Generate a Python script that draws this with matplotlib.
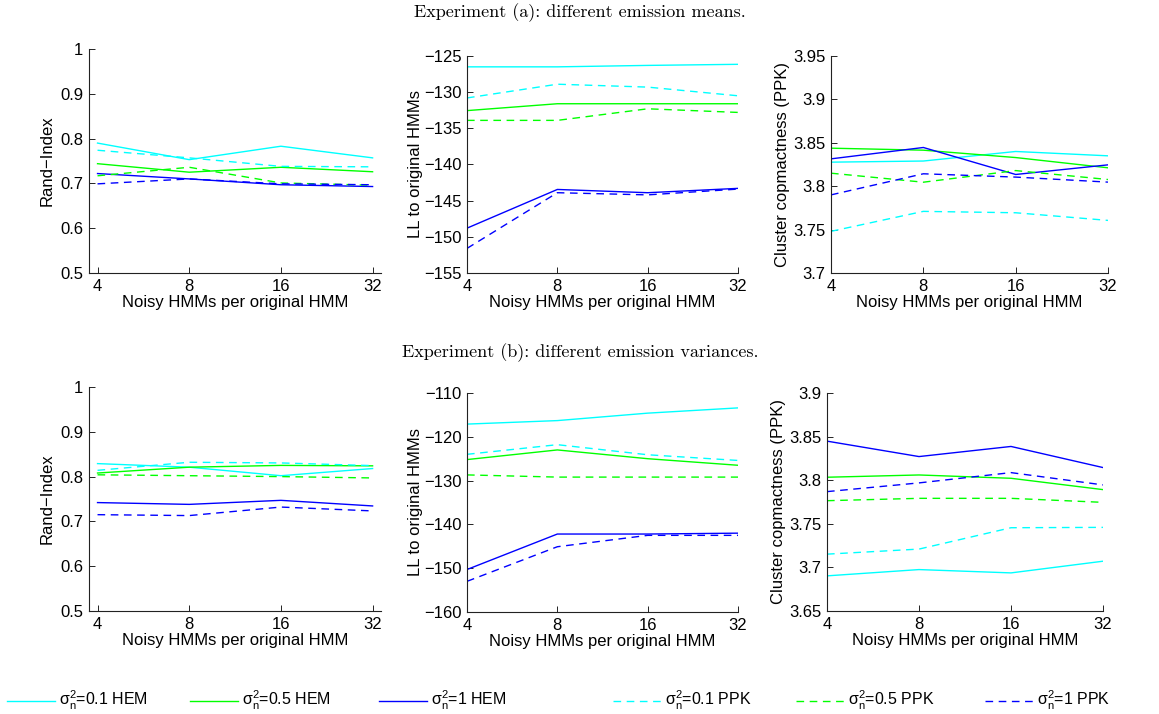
import numpy as np
import matplotlib
matplotlib.use("Agg")
import matplotlib.pyplot as plt

plt.rcParams['font.family'] = ['Liberation Sans', 'DejaVu Sans']
plt.rcParams['font.size'] = 12

# x values: number of noisy HMMs per original HMM
x_vals = [4, 8, 16, 32]
x_ticklabels = ['4', '8', '16', '32']

# rows: sigma_n^2 = 0.1, 0.5, 1
# Experiment (a): different emission means
a_rand_hem = [[0.790, 0.753, 0.783, 0.757],
              [0.744, 0.725, 0.736, 0.726],
              [0.722, 0.710, 0.697, 0.693]]
a_rand_ppk = [[0.774, 0.757, 0.738, 0.737],
              [0.717, 0.736, 0.701, 0.696],
              [0.699, 0.710, 0.699, 0.697]]
a_ll_hem = [[-126.5, -126.5, -126.3, -126.15],
            [-132.55, -131.6, -131.6, -131.6],
            [-148.8, -143.45, -143.9, -143.3]]
a_ll_ppk = [[-130.8, -128.9, -129.3, -130.5],
            [-133.9, -133.9, -132.3, -132.8],
            [-151.6, -143.9, -144.2, -143.4]]
a_ppk_hem = [[3.8277, 3.829, 3.840, 3.835],
             [3.8438, 3.8415, 3.833, 3.8212],
             [3.8315, 3.8446, 3.8135, 3.8246]]
a_ppk_ppk = [[3.748, 3.771, 3.7694, 3.7606],
             [3.815, 3.8046, 3.818, 3.8077],
             [3.790, 3.8143, 3.8105, 3.8047]]

# Experiment (b): different emission variances
b_rand_hem = [[0.829, 0.821, 0.802, 0.818],
              [0.808, 0.821, 0.825, 0.824],
              [0.742, 0.738, 0.747, 0.7345]]
b_rand_ppk = [[0.814, 0.832, 0.8305, 0.8245],
              [0.804, 0.802, 0.800, 0.797],
              [0.715, 0.713, 0.732, 0.7234]]
b_ll_hem = [[-117.1, -116.3, -114.6, -113.4],
            [-125.2, -123.0, -125.0, -126.5],
            [-150.3, -142.2, -142.2, -142.0]]
b_ll_ppk = [[-124.0, -121.8, -124.1, -125.4],
            [-128.7, -129.2, -129.2, -129.2],
            [-153.0, -145.1, -142.5, -142.5]]
b_ppk_hem = [[3.6903, 3.6975, 3.6937, 3.7071],
             [3.8034, 3.806, 3.8022, 3.7892],
             [3.8448, 3.8271, 3.8387, 3.8145]]
b_ppk_ppk = [[3.7152, 3.721, 3.7455, 3.7459],
             [3.7765, 3.7792, 3.7792, 3.7746],
             [3.7869, 3.7969, 3.8087, 3.7946]]

sigma_vals = ['0.1', '0.5', '1']
colors = ['#00ffff', '#00ff00', '#0000ff']

rand_ticks = [0.5, 0.6, 0.7, 0.8, 0.9, 1.0]
rand_ticklabels = ['0.5', '0.6', '0.7', '0.8', '0.9', '1']
a_ll_ticks = [-155, -150, -145, -140, -135, -130, -125]
b_ll_ticks = [-160, -150, -140, -130, -120, -110]
a_ppk_ticks = [3.7, 3.75, 3.8, 3.85, 3.9, 3.95]
a_ppk_ticklabels = ['3.7', '3.75', '3.8', '3.85', '3.9', '3.95']
b_ppk_ticks = [3.65, 3.7, 3.75, 3.8, 3.85, 3.9]
b_ppk_ticklabels = ['3.65', '3.7', '3.75', '3.8', '3.85', '3.9']

W, H = 1159, 714
fig = plt.figure(figsize=(W / 100, H / 100), dpi=100)


def px_axes(x0, y0, x1, y1):
    return fig.add_axes([x0 / W, 1 - y1 / H, (x1 - x0) / W, (y1 - y0) / H])


dash = (0, (5.5, 4))


def panel(ax, hem, ppk, ticks, ticklabels, ylabel, xlim, ypad=4):
    lines = []
    for i in range(3):
        l, = ax.plot(x_vals, hem[i], color=colors[i], lw=1.0)
        lines.append(l)
    for i in range(3):
        l, = ax.plot(x_vals, ppk[i], color=colors[i], lw=1.0, linestyle=dash)
        lines.append(l)
    ax.set_xscale('log', base=2)
    ax.set_xlim(*xlim)
    ax.set_xticks(x_vals)
    ax.set_xticklabels(x_ticklabels)
    ax.minorticks_off()
    ax.set_ylim(ticks[0], ticks[-1])
    ax.set_yticks(ticks)
    if ticklabels is not None:
        ax.set_yticklabels(ticklabels)
    ax.spines['top'].set_visible(False)
    ax.spines['right'].set_visible(False)
    for s in ['left', 'bottom']:
        ax.spines[s].set_linewidth(0.8)
        ax.spines[s].set_color('#222222')
    ax.tick_params(direction='in', length=4, width=0.6, pad=4)
    ax.set_xlabel('Noisy HMMs per original HMM', labelpad=1)
    ax.set_ylabel(ylabel, labelpad=ypad)
    return lines


wide = (3.75, 34.1)
tight = (4, 32)

ax = px_axes(89, 49, 381, 273)
handles = panel(ax, a_rand_hem, a_rand_ppk, rand_ticks, rand_ticklabels, 'Rand\u2212Index', wide)
ax = px_axes(467, 56, 738, 273)
panel(ax, a_ll_hem, a_ll_ppk, a_ll_ticks, None, 'LL to original HMMs', tight, ypad=0.5)
ax = px_axes(831, 56, 1108, 273)
panel(ax, a_ppk_hem, a_ppk_ppk, a_ppk_ticks, a_ppk_ticklabels, 'Cluster copmactness (PPK)', tight, ypad=2)

ax = px_axes(89, 387, 381, 611)
panel(ax, b_rand_hem, b_rand_ppk, rand_ticks, rand_ticklabels, 'Rand\u2212Index', wide)
ax = px_axes(467, 393, 738, 612)
panel(ax, b_ll_hem, b_ll_ppk, b_ll_ticks, None, 'LL to original HMMs', tight, ypad=0.5)
ax = px_axes(827, 393, 1103, 611)
panel(ax, b_ppk_hem, b_ppk_ppk, b_ppk_ticks, b_ppk_ticklabels, 'Cluster copmactness (PPK)', tight, ypad=2)

fig.text(580 / W, 1 - 13 / H, 'Experiment (a): different emission means.',
         family='cmr10', fontsize=13, ha='center', va='center')
fig.text(580 / W, 1 - 353 / H, 'Experiment (b): different emission variances.',
         family='cmr10', fontsize=13, ha='center', va='center')

labels = [r'$\mathregular{\sigma_n^2}$=' + s + ' HEM' for s in sigma_vals] + \
         [r'$\mathregular{\sigma_n^2}$=' + s + ' PPK' for s in sigma_vals]
leg_x = [5, 188, 377, 611, 794, 983]
for h, lab, x0 in zip(handles, labels, leg_x):
    fig.legend([h], [lab], loc='lower left', bbox_to_anchor=(x0 / W, 0.0),
               frameon=False, borderpad=0, borderaxespad=0.15,
               handlelength=3.0, handleheight=0.1, handletextpad=0.2,
               fontsize=11.5)

fig.savefig('out.png', dpi=100)
